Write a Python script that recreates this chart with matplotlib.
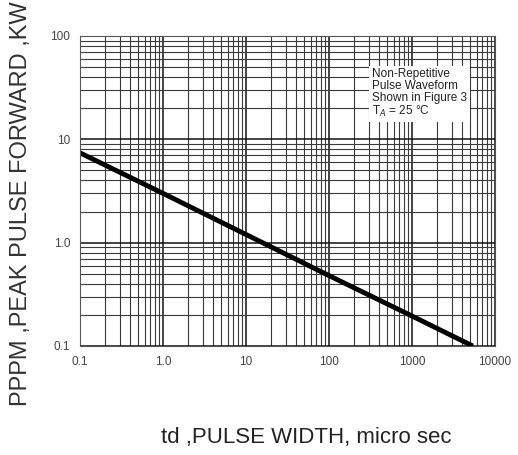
import matplotlib.pyplot as plt
from matplotlib.ticker import LogLocator, FixedLocator, NullFormatter

# curva de potencia de pico frente a ancho de pulso
ancho_pulso = [0.1, 1.0, 10, 100, 1000, 5400]
potencia_kw = [7.4, 3.0, 1.2, 0.48, 0.195, 0.1]

ticks_x = [0.1, 1.0, 10, 100, 1000, 10000]
etiquetas_x = ['0.1', '1.0', '10', '100', '1000', '10000']
ticks_y = [0.1, 1.0, 10, 100]
etiquetas_y = ['0.1', '1.0', '10', '100']

plt.rcParams['font.family'] = ['Liberation Sans', 'DejaVu Sans']

fig = plt.figure(figsize=(5.18, 4.55), dpi=100)
ax = fig.add_axes([80 / 518, 1 - 346 / 455, 415 / 518, 310 / 455])

ax.set_xscale('log')
ax.set_yscale('log')
ax.set_xlim(0.1, 10000)
ax.set_ylim(0.1, 100)

ax.xaxis.set_major_locator(FixedLocator(ticks_x))
ax.set_xticklabels(etiquetas_x)
ax.yaxis.set_major_locator(FixedLocator(ticks_y))
ax.set_yticklabels(etiquetas_y)
ax.xaxis.set_minor_locator(LogLocator(base=10, subs=range(2, 10)))
ax.yaxis.set_minor_locator(LogLocator(base=10, subs=range(2, 10)))
ax.xaxis.set_minor_formatter(NullFormatter())
ax.yaxis.set_minor_formatter(NullFormatter())

ax.grid(True, which='major', color='#111111', linewidth=1.1)
ax.grid(True, which='minor', color='#3a3a3a', linewidth=0.8)
ax.tick_params(which='both', length=0, labelsize=8.5, labelcolor='#444444', pad=7)
for lado in ax.spines.values():
    lado.set_color('#555555')
    lado.set_linewidth(0.8)

ax.plot(ancho_pulso, potencia_kw, color='black', linewidth=3.5, solid_capstyle='butt')

ax.text(0.704, 0.897, 'Non-Repetitive\nPulse Waveform\nShown in Figure 3\nT$_A$ = 25 °C',
        transform=ax.transAxes, ha='left', va='top', fontsize=8.5, color='#222222',
        linespacing=1.0,
        bbox=dict(facecolor='white', edgecolor='none', pad=2))

fig.text(0.04, 1 - 204 / 455, 'PPPM ,PEAK PULSE FORWARD ,KW', rotation=90,
         ha='center', va='center', fontsize=17, color='#333333')
fig.text(306 / 518, 1 - 438 / 455, 'td ,PULSE WIDTH, micro sec',
         ha='center', va='center', fontsize=16, color='#222222')

fig.savefig('out.png', dpi=100)
